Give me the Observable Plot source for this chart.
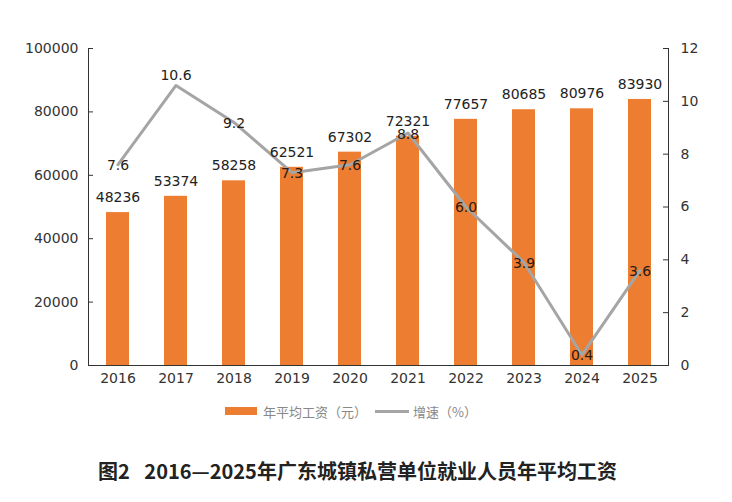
<!DOCTYPE html>
<html><head><meta charset="utf-8">
<script src="https://cdn.jsdelivr.net/npm/d3@7"></script>
<script src="https://cdn.jsdelivr.net/npm/@observablehq/plot@0.6"></script>
<style>
body{margin:0;background:#fff;}
#wrap{width:732px;height:502px;position:relative;background:#fff;}
#wrap svg text{font-family:"DejaVu Sans",Verdana,sans-serif !important;font-size:14px !important;}
.legend{display:flex;align-items:center;height:32px;padding-left:225px;font-family:"Noto Sans CJK SC",sans-serif;font-size:13px;color:#888;}
.sw-bar{width:32px;height:8px;background:#ed7d31;margin-right:6px;}
.sw-line{width:34px;height:3px;background:#a5a5a5;margin-left:8px;margin-right:4px;}
.title{margin-top:30px;padding-left:98px;font-family:"Noto Sans CJK SC",sans-serif;font-weight:bold;font-size:20px;line-height:28px;color:#222;white-space:nowrap;}
</style></head><body>
<div id="wrap"></div>
<script>
const years = ["2016","2017","2018","2019","2020","2021","2022","2023","2024","2025"];
const wages = [48236,53374,58258,62521,67302,72321,77657,80685,80976,83930];
const growth = [7.6,10.6,9.2,7.3,7.6,8.8,6.0,3.9,0.4,3.6];
const wageTicks = [0,20000,40000,60000,80000,100000];
const growthTicks = [0,2,4,6,8,10,12];
const legendLabels = ["年平均工资（元）","增速（%）"];
const titleText = "图2\u2002 2016—2025年广东城镇私营单位就业人员年平均工资";

const wageMax = 100000, growthMax = 12;
const K = wageMax / growthMax;
const data = years.map((y, i) => ({year: y, wage: wages[i], growth: growth[i]}));
const peak = d3.max(growth);
const plotW = 732 - 88 - 64;

const chart = Plot.plot({
  width: 732, height: 395,
  marginLeft: 88, marginRight: 64, marginTop: 48, marginBottom: 30,
  style: {fontFamily: "DejaVu Sans", fontSize: "14px", color: "#333", background: "#fff"},
  x: {domain: years, paddingInner: 0.607, paddingOuter: 0.29, axis: null},
  y: {domain: [0, wageMax], axis: null},
  marks: [
    Plot.barY(data, {x: "year", y: "wage", fill: "#ed7d31"}),
    Plot.axisX({tickSize: 0, tickPadding: 8, label: null}),
    Plot.axisY({ticks: wageTicks, tickSize: 0, tickPadding: 10, tickFormat: d => String(d), label: null}),
    Plot.axisY({anchor: "right", ticks: growthTicks.map(v => v * K), tickSize: 0, tickPadding: 12,
      tickFormat: d => String(Math.round(d / K)), label: null}),
    Plot.ruleY(wageTicks, {y: d => d, insetRight: plotW - 5, stroke: "#333"}),
    Plot.ruleY(growthTicks, {y: d => d * K, insetLeft: plotW - 5, stroke: "#333"}),
    Plot.frame({anchor: "left", stroke: "#333"}),
    Plot.frame({anchor: "right", stroke: "#333"}),
    Plot.ruleY([0], {stroke: "#333"}),
    Plot.lineY(data, {x: "year", y: d => d.growth * K, stroke: "#a5a5a5", strokeWidth: 3}),
    Plot.text(data, {x: "year", y: "wage", text: d => String(d.wage), dy: -15, fill: "#222"}),
    Plot.text(data.filter(d => d.growth !== peak), {x: "year", y: d => d.growth * K, text: d => d.growth.toFixed(1), dy: 1, fill: "#2a1a14"}),
    Plot.text(data.filter(d => d.growth === peak), {x: "year", y: d => d.growth * K, text: d => d.growth.toFixed(1), dy: -10, fill: "#222"})
  ]
});

const wrap = document.getElementById("wrap");
wrap.appendChild(chart);

const legend = document.createElement("div");
legend.className = "legend";
legend.innerHTML = `<span class="sw-bar"></span><span>${legendLabels[0]}</span><span class="sw-line"></span><span>${legendLabels[1]}</span>`;
wrap.appendChild(legend);

const title = document.createElement("div");
title.className = "title";
title.textContent = titleText;
wrap.appendChild(title);
</script>
</body></html>
